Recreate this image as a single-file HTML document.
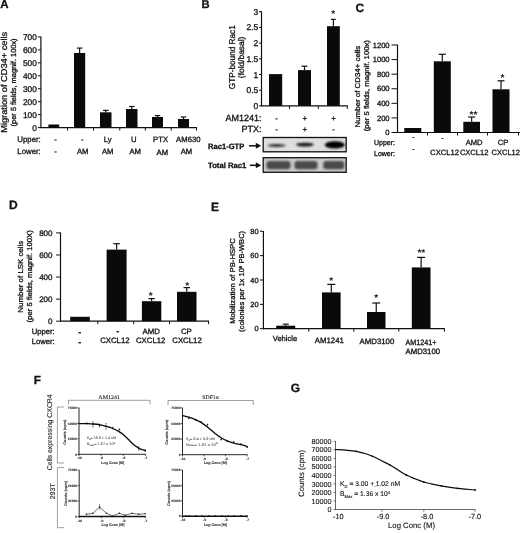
<!DOCTYPE html>
<html><head><meta charset="utf-8"><title>Figure</title>
<style>
html,body{margin:0;padding:0;background:#fff;}
svg{display:block;filter:blur(0.4px);}
svg text{font-family:"Liberation Sans",Arial,sans-serif;text-rendering:geometricPrecision;stroke:#000;stroke-width:0.28px;paint-order:stroke;} svg text.t{stroke-width:0.12px;stroke:#444} svg text.s{stroke-width:0} svg text.g{stroke-width:0.1px}
</style></head><body>
<svg width="520" height="533" viewBox="0 0 520 533">
<rect width="520" height="533" fill="#fff"/>
<text x="0.3" y="8.4" font-size="11.5" text-anchor="start" font-weight="bold" fill="#111">A</text>
<line x1="40.9" y1="36.5" x2="40.9" y2="128.1" stroke="#111" stroke-width="1.2"/>
<line x1="40.4" y1="127.6" x2="197" y2="127.6" stroke="#111" stroke-width="1.2"/>
<line x1="37.9" y1="127.6" x2="40.9" y2="127.6" stroke="#111" stroke-width="1"/>
<text x="36.8" y="130.5" font-size="8.3" text-anchor="end" font-weight="normal" fill="#111">0</text>
<line x1="37.9" y1="114.64285714285714" x2="40.9" y2="114.64285714285714" stroke="#111" stroke-width="1"/>
<text x="36.8" y="117.54285714285714" font-size="8.3" text-anchor="end" font-weight="normal" fill="#111">100</text>
<line x1="37.9" y1="101.68571428571428" x2="40.9" y2="101.68571428571428" stroke="#111" stroke-width="1"/>
<text x="36.8" y="104.58571428571429" font-size="8.3" text-anchor="end" font-weight="normal" fill="#111">200</text>
<line x1="37.9" y1="88.72857142857143" x2="40.9" y2="88.72857142857143" stroke="#111" stroke-width="1"/>
<text x="36.8" y="91.62857142857143" font-size="8.3" text-anchor="end" font-weight="normal" fill="#111">300</text>
<line x1="37.9" y1="75.77142857142857" x2="40.9" y2="75.77142857142857" stroke="#111" stroke-width="1"/>
<text x="36.8" y="78.67142857142858" font-size="8.3" text-anchor="end" font-weight="normal" fill="#111">400</text>
<line x1="37.9" y1="62.81428571428572" x2="40.9" y2="62.81428571428572" stroke="#111" stroke-width="1"/>
<text x="36.8" y="65.71428571428572" font-size="8.3" text-anchor="end" font-weight="normal" fill="#111">500</text>
<line x1="37.9" y1="49.85714285714286" x2="40.9" y2="49.85714285714286" stroke="#111" stroke-width="1"/>
<text x="36.8" y="52.75714285714286" font-size="8.3" text-anchor="end" font-weight="normal" fill="#111">600</text>
<line x1="37.9" y1="36.90000000000002" x2="40.9" y2="36.90000000000002" stroke="#111" stroke-width="1"/>
<text x="36.8" y="39.80000000000002" font-size="8.3" text-anchor="end" font-weight="normal" fill="#111">700</text>
<line x1="67.5" y1="127.6" x2="67.5" y2="130.6" stroke="#111" stroke-width="1"/>
<line x1="93.5" y1="127.6" x2="93.5" y2="130.6" stroke="#111" stroke-width="1"/>
<line x1="119.8" y1="127.6" x2="119.8" y2="130.6" stroke="#111" stroke-width="1"/>
<line x1="145.3" y1="127.6" x2="145.3" y2="130.6" stroke="#111" stroke-width="1"/>
<line x1="171.2" y1="127.6" x2="171.2" y2="130.6" stroke="#111" stroke-width="1"/>
<line x1="196.5" y1="127.6" x2="196.5" y2="130.6" stroke="#111" stroke-width="1"/>
<rect x="48.4" y="124.5" width="10.800000000000004" height="3.0999999999999943" fill="#0a0a0a"/>
<rect x="74" y="53" width="11.200000000000003" height="74.6" fill="#0a0a0a"/>
<line x1="79.6" y1="53" x2="79.6" y2="48.1" stroke="#111" stroke-width="1.2"/>
<line x1="76.85" y1="48.1" x2="82.35" y2="48.1" stroke="#111" stroke-width="1.2"/>
<rect x="100" y="112.3" width="11.5" height="15.299999999999997" fill="#0a0a0a"/>
<line x1="105.75" y1="112.3" x2="105.75" y2="110.4" stroke="#111" stroke-width="1.2"/>
<line x1="103.0" y1="110.4" x2="108.5" y2="110.4" stroke="#111" stroke-width="1.2"/>
<rect x="126" y="109" width="11.5" height="18.599999999999994" fill="#0a0a0a"/>
<line x1="131.75" y1="109" x2="131.75" y2="106.5" stroke="#111" stroke-width="1.2"/>
<line x1="129.0" y1="106.5" x2="134.5" y2="106.5" stroke="#111" stroke-width="1.2"/>
<rect x="152" y="117" width="11" height="10.599999999999994" fill="#0a0a0a"/>
<line x1="157.5" y1="117" x2="157.5" y2="115.6" stroke="#111" stroke-width="1.2"/>
<line x1="154.75" y1="115.6" x2="160.25" y2="115.6" stroke="#111" stroke-width="1.2"/>
<rect x="178" y="119" width="11" height="8.599999999999994" fill="#0a0a0a"/>
<line x1="183.5" y1="119" x2="183.5" y2="117" stroke="#111" stroke-width="1.2"/>
<line x1="180.75" y1="117" x2="186.25" y2="117" stroke="#111" stroke-width="1.2"/>
<text x="7" y="82.3" font-size="8.6" text-anchor="middle" font-weight="normal" fill="#111" transform="rotate(-90 7 82.3)" textLength="101" lengthAdjust="spacingAndGlyphs">Migration of CD34+ cells</text>
<text x="16.2" y="82.4" font-size="7.4" text-anchor="middle" font-weight="normal" fill="#111" transform="rotate(-90 16.2 82.4)" textLength="88" lengthAdjust="spacingAndGlyphs">(per 5 fields, magnif. 100x)</text>
<text x="17.3" y="142.3" font-size="8" text-anchor="start" font-weight="normal" fill="#111" textLength="23.5" lengthAdjust="spacingAndGlyphs">Upper:</text>
<text x="17.3" y="154" font-size="8" text-anchor="start" font-weight="normal" fill="#111" textLength="23.5" lengthAdjust="spacingAndGlyphs">Lower:</text>
<text x="55.6" y="141.8" font-size="7.7" text-anchor="middle" font-weight="normal" fill="#111">-</text>
<text x="82.2" y="141.8" font-size="7.7" text-anchor="middle" font-weight="normal" fill="#111">-</text>
<text x="107.7" y="141.8" font-size="7.7" text-anchor="middle" font-weight="normal" fill="#111">Ly</text>
<text x="133.7" y="141.8" font-size="7.7" text-anchor="middle" font-weight="normal" fill="#111">U</text>
<text x="160.6" y="141.8" font-size="7.7" text-anchor="middle" font-weight="normal" fill="#111">PTX</text>
<text x="188.3" y="141.8" font-size="7.7" text-anchor="middle" font-weight="normal" fill="#111">AM630</text>
<text x="55.6" y="153.9" font-size="7.7" text-anchor="middle" font-weight="normal" fill="#111">-</text>
<text x="82.7" y="153.9" font-size="7.7" text-anchor="middle" font-weight="normal" fill="#111">AM</text>
<text x="107.7" y="153.9" font-size="7.7" text-anchor="middle" font-weight="normal" fill="#111">AM</text>
<text x="135.2" y="154.1" font-size="7.7" text-anchor="middle" font-weight="normal" fill="#111">AM</text>
<text x="162.3" y="154.9" font-size="7.7" text-anchor="middle" font-weight="normal" fill="#111">AM</text>
<text x="186.4" y="154.4" font-size="7.7" text-anchor="middle" font-weight="normal" fill="#111">AM</text>
<text x="201.5" y="8.3" font-size="11.2" text-anchor="start" font-weight="bold" fill="#111">B</text>
<line x1="261.5" y1="11.299999999999999" x2="261.5" y2="106.4" stroke="#111" stroke-width="1.2"/>
<line x1="261.0" y1="105.9" x2="347.8" y2="105.9" stroke="#111" stroke-width="1.2"/>
<line x1="259.0" y1="105.9" x2="261.5" y2="105.9" stroke="#111" stroke-width="1"/>
<text x="258.3" y="108.9" font-size="8.5" text-anchor="end" font-weight="normal" fill="#111">0</text>
<line x1="259.0" y1="90.2" x2="261.5" y2="90.2" stroke="#111" stroke-width="1"/>
<text x="258.3" y="93.2" font-size="8.5" text-anchor="end" font-weight="normal" fill="#111">0.5</text>
<line x1="259.0" y1="74.5" x2="261.5" y2="74.5" stroke="#111" stroke-width="1"/>
<text x="258.3" y="77.5" font-size="8.5" text-anchor="end" font-weight="normal" fill="#111">1</text>
<line x1="259.0" y1="58.800000000000004" x2="261.5" y2="58.800000000000004" stroke="#111" stroke-width="1"/>
<text x="258.3" y="61.800000000000004" font-size="8.5" text-anchor="end" font-weight="normal" fill="#111">1.5</text>
<line x1="259.0" y1="43.1" x2="261.5" y2="43.1" stroke="#111" stroke-width="1"/>
<text x="258.3" y="46.1" font-size="8.5" text-anchor="end" font-weight="normal" fill="#111">2</text>
<line x1="259.0" y1="27.400000000000006" x2="261.5" y2="27.400000000000006" stroke="#111" stroke-width="1"/>
<text x="258.3" y="30.400000000000006" font-size="8.5" text-anchor="end" font-weight="normal" fill="#111">2.5</text>
<line x1="259.0" y1="11.700000000000003" x2="261.5" y2="11.700000000000003" stroke="#111" stroke-width="1"/>
<text x="258.3" y="14.700000000000003" font-size="8.5" text-anchor="end" font-weight="normal" fill="#111">3</text>
<line x1="289.5" y1="105.9" x2="289.5" y2="108.9" stroke="#111" stroke-width="1"/>
<line x1="318.3" y1="105.9" x2="318.3" y2="108.9" stroke="#111" stroke-width="1"/>
<line x1="347.3" y1="105.9" x2="347.3" y2="108.9" stroke="#111" stroke-width="1"/>
<rect x="269" y="74.1" width="13.199999999999989" height="31.80000000000001" fill="#0a0a0a"/>
<rect x="298" y="70.1" width="13" height="35.80000000000001" fill="#0a0a0a"/>
<line x1="304.5" y1="70.1" x2="304.5" y2="66.2" stroke="#111" stroke-width="1.2"/>
<line x1="301.5" y1="66.2" x2="307.5" y2="66.2" stroke="#111" stroke-width="1.2"/>
<rect x="327" y="26.2" width="12.800000000000011" height="79.7" fill="#0a0a0a"/>
<line x1="333.4" y1="26.2" x2="333.4" y2="19.4" stroke="#111" stroke-width="1.2"/>
<line x1="331.0" y1="19.4" x2="335.79999999999995" y2="19.4" stroke="#111" stroke-width="1.2"/>
<text x="333.1" y="17.1" font-size="10" text-anchor="middle" font-weight="bold" fill="#111" class="s">*</text>
<text x="235.4" y="57.2" font-size="8.6" text-anchor="middle" font-weight="normal" fill="#111" transform="rotate(-90 235.4 57.2)" textLength="64" lengthAdjust="spacingAndGlyphs">GTP-bound Rac1</text>
<text x="244.5" y="57.4" font-size="8.2" text-anchor="middle" font-weight="normal" fill="#111" transform="rotate(-90 244.5 57.4)" textLength="41.5" lengthAdjust="spacingAndGlyphs">(fold/basal)</text>
<text x="261.6" y="121.3" font-size="9" text-anchor="end" font-weight="normal" fill="#111">AM1241:</text>
<text x="261.6" y="132.2" font-size="9" text-anchor="end" font-weight="normal" fill="#111">PTX:</text>
<text x="276.5" y="120.8" font-size="8" text-anchor="middle" font-weight="normal" fill="#111">-</text>
<text x="304.9" y="120.8" font-size="8" text-anchor="middle" font-weight="normal" fill="#111">+</text>
<text x="333.5" y="120.8" font-size="8" text-anchor="middle" font-weight="normal" fill="#111">+</text>
<text x="276.5" y="131.6" font-size="8" text-anchor="middle" font-weight="normal" fill="#111">-</text>
<text x="304.9" y="131.6" font-size="8" text-anchor="middle" font-weight="normal" fill="#111">+</text>
<text x="333.5" y="131.6" font-size="8" text-anchor="middle" font-weight="normal" fill="#111">-</text>
<defs><filter id="bl" x="-20%" y="-50%" width="140%" height="200%"><feGaussianBlur stdDeviation="0.9"/></filter><filter id="bl2" x="-20%" y="-50%" width="140%" height="200%"><feGaussianBlur stdDeviation="1.3"/></filter></defs>
<rect x="263.2" y="137.5" width="83" height="14.3" fill="#dedede" stroke="#111" stroke-width="1.3"/>
<g filter="url(#bl)">
<ellipse cx="276.6" cy="145.5" rx="9" ry="1.5" fill="#2a2a2a"/>
<ellipse cx="305" cy="144.6" rx="8.8" ry="1.9" fill="#151515"/>
<ellipse cx="334.8" cy="144.9" rx="10" ry="3.6" fill="#000"/>
<ellipse cx="334.8" cy="144.9" rx="7" ry="2.2" fill="#000"/>
</g>
<rect x="263.2" y="157.7" width="83" height="14.6" fill="#c9c9c9" stroke="#111" stroke-width="1.3"/>
<g filter="url(#bl2)">
<rect x="266.5" y="161" width="24" height="8.2" rx="3" fill="#4a4a4a"/>
<rect x="294.5" y="161" width="23" height="8.2" rx="3" fill="#4a4a4a"/>
<rect x="323.3" y="161" width="21" height="8.2" rx="3" fill="#4a4a4a"/>
</g>
<text x="208" y="148.8" font-size="7.7" text-anchor="start" font-weight="bold" fill="#111" textLength="36.3" lengthAdjust="spacingAndGlyphs">Rac1-GTP</text>
<text x="208" y="167.8" font-size="7.7" text-anchor="start" font-weight="bold" fill="#111" textLength="38.4" lengthAdjust="spacingAndGlyphs">Total Rac1</text>
<line x1="249" y1="145.8" x2="258.2" y2="145.8" stroke="#111" stroke-width="1.5"/>
<polygon points="261.2,145.8 255.79999999999998,142.8 255.79999999999998,148.8" fill="#111"/>
<line x1="249.8" y1="165.3" x2="258.2" y2="165.3" stroke="#111" stroke-width="1.5"/>
<polygon points="261.2,165.3 255.79999999999998,162.3 255.79999999999998,168.3" fill="#111"/>
<text x="355.6" y="11.7" font-size="12" text-anchor="start" font-weight="bold" fill="#111">C</text>
<line x1="397.5" y1="44.6" x2="397.5" y2="133.0" stroke="#111" stroke-width="1.2"/>
<line x1="397.0" y1="132.5" x2="520" y2="132.5" stroke="#111" stroke-width="1.2"/>
<line x1="391.5" y1="132.5" x2="397.5" y2="132.5" stroke="#111" stroke-width="1"/>
<text x="389.6" y="135.2" font-size="7.6" text-anchor="end" font-weight="normal" fill="#111">0</text>
<line x1="391.5" y1="117.91666666666667" x2="397.5" y2="117.91666666666667" stroke="#111" stroke-width="1"/>
<text x="389.6" y="120.61666666666667" font-size="7.6" text-anchor="end" font-weight="normal" fill="#111">200</text>
<line x1="391.5" y1="103.33333333333333" x2="397.5" y2="103.33333333333333" stroke="#111" stroke-width="1"/>
<text x="389.6" y="106.03333333333333" font-size="7.6" text-anchor="end" font-weight="normal" fill="#111">400</text>
<line x1="391.5" y1="88.75" x2="397.5" y2="88.75" stroke="#111" stroke-width="1"/>
<text x="389.6" y="91.45" font-size="7.6" text-anchor="end" font-weight="normal" fill="#111">600</text>
<line x1="391.5" y1="74.16666666666666" x2="397.5" y2="74.16666666666666" stroke="#111" stroke-width="1"/>
<text x="389.6" y="76.86666666666666" font-size="7.6" text-anchor="end" font-weight="normal" fill="#111">800</text>
<line x1="391.5" y1="59.58333333333333" x2="397.5" y2="59.58333333333333" stroke="#111" stroke-width="1"/>
<text x="389.6" y="62.28333333333333" font-size="7.6" text-anchor="end" font-weight="normal" fill="#111">1000</text>
<line x1="391.5" y1="45.0" x2="397.5" y2="45.0" stroke="#111" stroke-width="1"/>
<text x="389.6" y="47.7" font-size="7.6" text-anchor="end" font-weight="normal" fill="#111">1200</text>
<line x1="427.5" y1="132.5" x2="427.5" y2="135.5" stroke="#111" stroke-width="1"/>
<line x1="457.5" y1="132.5" x2="457.5" y2="135.5" stroke="#111" stroke-width="1"/>
<line x1="487.5" y1="132.5" x2="487.5" y2="135.5" stroke="#111" stroke-width="1"/>
<line x1="518.5" y1="132.5" x2="518.5" y2="135.5" stroke="#111" stroke-width="1"/>
<rect x="404.3" y="128" width="17.0" height="4.5" fill="#0a0a0a"/>
<rect x="433.8" y="61.3" width="17.0" height="71.2" fill="#0a0a0a"/>
<line x1="442.3" y1="61.3" x2="442.3" y2="54.3" stroke="#111" stroke-width="1.2"/>
<line x1="438.8" y1="54.3" x2="445.8" y2="54.3" stroke="#111" stroke-width="1.2"/>
<rect x="463.3" y="121.8" width="16.69999999999999" height="10.700000000000003" fill="#0a0a0a"/>
<line x1="471.65" y1="121.8" x2="471.65" y2="117" stroke="#111" stroke-width="1.2"/>
<line x1="468.15" y1="117" x2="475.15" y2="117" stroke="#111" stroke-width="1.2"/>
<rect x="492.5" y="89.3" width="17.0" height="43.2" fill="#0a0a0a"/>
<line x1="501.0" y1="89.3" x2="501.0" y2="80.8" stroke="#111" stroke-width="1.2"/>
<line x1="497.5" y1="80.8" x2="504.5" y2="80.8" stroke="#111" stroke-width="1.2"/>
<text x="473.4" y="118.4" font-size="10" text-anchor="middle" font-weight="bold" fill="#111" class="s">**</text>
<text x="502.5" y="81.4" font-size="10" text-anchor="middle" font-weight="bold" fill="#111" class="s">*</text>
<text x="360.3" y="86.6" font-size="7" text-anchor="middle" font-weight="normal" fill="#111" transform="rotate(-90 360.3 86.6)" textLength="81.8" lengthAdjust="spacingAndGlyphs">Number of CD34+ cells</text>
<text x="369.4" y="85.7" font-size="7" text-anchor="middle" font-weight="normal" fill="#111" transform="rotate(-90 369.4 85.7)" textLength="91.2" lengthAdjust="spacingAndGlyphs">(per 5 fields, magnif. 100x)</text>
<text x="374" y="144.8" font-size="7.4" text-anchor="start" font-weight="normal" fill="#111" textLength="21" lengthAdjust="spacingAndGlyphs">Upper:</text>
<text x="374" y="155.5" font-size="7.4" text-anchor="start" font-weight="normal" fill="#111" textLength="21" lengthAdjust="spacingAndGlyphs">Lower:</text>
<text x="413.3" y="138.70000000000002" font-size="5.5" text-anchor="middle" font-weight="bold" fill="#222">-</text>
<text x="442.5" y="139.6" font-size="5.5" text-anchor="middle" font-weight="bold" fill="#222">-</text>
<text x="413.3" y="151.4" font-size="5.5" text-anchor="middle" font-weight="bold" fill="#222">-</text>
<text x="474.1" y="144.6" font-size="7.6" text-anchor="middle" font-weight="normal" fill="#111">AMD</text>
<text x="503" y="144.6" font-size="7.6" text-anchor="middle" font-weight="normal" fill="#111">CP</text>
<text x="430.1" y="154.8" font-size="7.6" text-anchor="start" font-weight="normal" fill="#111" textLength="29" lengthAdjust="spacingAndGlyphs">CXCL12</text>
<text x="459.9" y="154.8" font-size="7.6" text-anchor="start" font-weight="normal" fill="#111" textLength="28.5" lengthAdjust="spacingAndGlyphs">CXCL12</text>
<text x="491.5" y="154.8" font-size="7.6" text-anchor="start" font-weight="normal" fill="#111" textLength="28.5" lengthAdjust="spacingAndGlyphs">CXCL12</text>
<text x="9" y="208.8" font-size="12" text-anchor="start" font-weight="bold" fill="#111">D</text>
<line x1="60.5" y1="232.5" x2="60.5" y2="321.7" stroke="#111" stroke-width="1.2"/>
<line x1="60.0" y1="321.2" x2="209" y2="321.2" stroke="#111" stroke-width="1.2"/>
<line x1="56.1" y1="321.2" x2="60.5" y2="321.2" stroke="#111" stroke-width="1"/>
<text x="52.5" y="324.0" font-size="8" text-anchor="end" font-weight="normal" fill="#111">0</text>
<line x1="56.1" y1="299.125" x2="60.5" y2="299.125" stroke="#111" stroke-width="1"/>
<text x="52.5" y="301.925" font-size="8" text-anchor="end" font-weight="normal" fill="#111">200</text>
<line x1="56.1" y1="277.05" x2="60.5" y2="277.05" stroke="#111" stroke-width="1"/>
<text x="52.5" y="279.85" font-size="8" text-anchor="end" font-weight="normal" fill="#111">400</text>
<line x1="56.1" y1="254.975" x2="60.5" y2="254.975" stroke="#111" stroke-width="1"/>
<text x="52.5" y="257.775" font-size="8" text-anchor="end" font-weight="normal" fill="#111">600</text>
<line x1="56.1" y1="232.9" x2="60.5" y2="232.9" stroke="#111" stroke-width="1"/>
<text x="52.5" y="235.70000000000002" font-size="8" text-anchor="end" font-weight="normal" fill="#111">800</text>
<line x1="97.8" y1="321.2" x2="97.8" y2="324.2" stroke="#111" stroke-width="1"/>
<line x1="133.7" y1="321.2" x2="133.7" y2="324.2" stroke="#111" stroke-width="1"/>
<line x1="169.5" y1="321.2" x2="169.5" y2="324.2" stroke="#111" stroke-width="1"/>
<line x1="208.6" y1="321.2" x2="208.6" y2="324.2" stroke="#111" stroke-width="1"/>
<rect x="70.2" y="316.8" width="19.599999999999994" height="4.399999999999977" fill="#0a0a0a"/>
<rect x="106.6" y="249.6" width="20.0" height="71.6" fill="#0a0a0a"/>
<line x1="116.6" y1="249.6" x2="116.6" y2="243.7" stroke="#111" stroke-width="1.2"/>
<line x1="113.35" y1="243.7" x2="119.85" y2="243.7" stroke="#111" stroke-width="1.2"/>
<rect x="141.9" y="301.2" width="19.400000000000006" height="20.0" fill="#0a0a0a"/>
<line x1="151.60000000000002" y1="301.2" x2="151.60000000000002" y2="298.6" stroke="#111" stroke-width="1.2"/>
<line x1="148.35000000000002" y1="298.6" x2="154.85000000000002" y2="298.6" stroke="#111" stroke-width="1.2"/>
<rect x="177" y="291.8" width="19.5" height="29.399999999999977" fill="#0a0a0a"/>
<line x1="186.75" y1="291.8" x2="186.75" y2="287.6" stroke="#111" stroke-width="1.2"/>
<line x1="183.5" y1="287.6" x2="190.0" y2="287.6" stroke="#111" stroke-width="1.2"/>
<text x="150.8" y="298.7" font-size="10" text-anchor="middle" font-weight="bold" fill="#111" class="s">*</text>
<text x="187.1" y="288.6" font-size="10" text-anchor="middle" font-weight="bold" fill="#111" class="s">*</text>
<text x="23.3" y="276.7" font-size="7.2" text-anchor="middle" font-weight="normal" fill="#111" transform="rotate(-90 23.3 276.7)" textLength="72" lengthAdjust="spacingAndGlyphs">Number of  LSK cells</text>
<text x="32" y="276.3" font-size="7.2" text-anchor="middle" font-weight="normal" fill="#111" transform="rotate(-90 32 276.3)" textLength="92.2" lengthAdjust="spacingAndGlyphs">(per 5 fields, magnif. 100X)</text>
<text x="31.7" y="333.6" font-size="7.7" text-anchor="start" font-weight="normal" fill="#111" textLength="23" lengthAdjust="spacingAndGlyphs">Upper:</text>
<text x="31.7" y="343.9" font-size="7.7" text-anchor="start" font-weight="normal" fill="#111" textLength="23" lengthAdjust="spacingAndGlyphs">Lower:</text>
<text x="79.8" y="334.7" font-size="9" text-anchor="middle" font-weight="bold" fill="#111">-</text>
<text x="79.8" y="345.2" font-size="9" text-anchor="middle" font-weight="bold" fill="#111">-</text>
<text x="117.7" y="334.1" font-size="9" text-anchor="middle" font-weight="bold" fill="#111">-</text>
<text x="151.2" y="334" font-size="7.8" text-anchor="middle" font-weight="normal" fill="#111">AMD</text>
<text x="186.4" y="334" font-size="7.8" text-anchor="middle" font-weight="normal" fill="#111">CP</text>
<text x="114.9" y="343.4" font-size="7.8" text-anchor="middle" font-weight="normal" fill="#111" textLength="29.5" lengthAdjust="spacingAndGlyphs">CXCL12</text>
<text x="150.7" y="343.4" font-size="7.8" text-anchor="middle" font-weight="normal" fill="#111" textLength="29.5" lengthAdjust="spacingAndGlyphs">CXCL12</text>
<text x="187" y="343.4" font-size="7.8" text-anchor="middle" font-weight="normal" fill="#111" textLength="29.5" lengthAdjust="spacingAndGlyphs">CXCL12</text>
<text x="211" y="211" font-size="12" text-anchor="start" font-weight="bold" fill="#111">E</text>
<line x1="263.4" y1="230.9" x2="263.4" y2="329.2" stroke="#111" stroke-width="1.2"/>
<line x1="262.9" y1="328.7" x2="444.8" y2="328.7" stroke="#111" stroke-width="1.2"/>
<line x1="259.9" y1="328.7" x2="263.4" y2="328.7" stroke="#111" stroke-width="1"/>
<text x="258.6" y="331.4" font-size="7.4" text-anchor="end" font-weight="normal" fill="#111">0</text>
<line x1="259.9" y1="304.35" x2="263.4" y2="304.35" stroke="#111" stroke-width="1"/>
<text x="258.6" y="307.05" font-size="7.4" text-anchor="end" font-weight="normal" fill="#111">20</text>
<line x1="259.9" y1="280.0" x2="263.4" y2="280.0" stroke="#111" stroke-width="1"/>
<text x="258.6" y="282.7" font-size="7.4" text-anchor="end" font-weight="normal" fill="#111">40</text>
<line x1="259.9" y1="255.65" x2="263.4" y2="255.65" stroke="#111" stroke-width="1"/>
<text x="258.6" y="258.35" font-size="7.4" text-anchor="end" font-weight="normal" fill="#111">60</text>
<line x1="259.9" y1="231.3" x2="263.4" y2="231.3" stroke="#111" stroke-width="1"/>
<text x="258.6" y="234.0" font-size="7.4" text-anchor="end" font-weight="normal" fill="#111">80</text>
<line x1="308.8" y1="328.7" x2="308.8" y2="331.7" stroke="#111" stroke-width="1"/>
<line x1="353.8" y1="328.7" x2="353.8" y2="331.7" stroke="#111" stroke-width="1"/>
<line x1="398.8" y1="328.7" x2="398.8" y2="331.7" stroke="#111" stroke-width="1"/>
<line x1="444.4" y1="328.7" x2="444.4" y2="331.7" stroke="#111" stroke-width="1"/>
<rect x="276.2" y="325.7" width="19.0" height="3.0" fill="#0a0a0a"/>
<line x1="285.7" y1="325.7" x2="285.7" y2="324.2" stroke="#111" stroke-width="1.2"/>
<line x1="282.7" y1="324.2" x2="288.7" y2="324.2" stroke="#111" stroke-width="1.2"/>
<rect x="322" y="292.4" width="18.600000000000023" height="36.30000000000001" fill="#0a0a0a"/>
<line x1="331.3" y1="292.4" x2="331.3" y2="284.4" stroke="#111" stroke-width="1.2"/>
<line x1="327.3" y1="284.4" x2="335.3" y2="284.4" stroke="#111" stroke-width="1.2"/>
<rect x="367" y="312" width="18.5" height="16.69999999999999" fill="#0a0a0a"/>
<line x1="376.25" y1="312" x2="376.25" y2="303" stroke="#111" stroke-width="1.2"/>
<line x1="372.25" y1="303" x2="380.25" y2="303" stroke="#111" stroke-width="1.2"/>
<rect x="411.8" y="267.4" width="18.69999999999999" height="61.30000000000001" fill="#0a0a0a"/>
<line x1="421.15" y1="267.4" x2="421.15" y2="257.4" stroke="#111" stroke-width="1.2"/>
<line x1="417.15" y1="257.4" x2="425.15" y2="257.4" stroke="#111" stroke-width="1.2"/>
<text x="331.3" y="284.0" font-size="10" text-anchor="middle" font-weight="bold" fill="#111" class="s">*</text>
<text x="376.3" y="301.3" font-size="10" text-anchor="middle" font-weight="bold" fill="#111" class="s">*</text>
<text x="421.3" y="255.8" font-size="10" text-anchor="middle" font-weight="bold" fill="#111" class="s">**</text>
<text x="235" y="281" font-size="7.2" text-anchor="middle" font-weight="normal" fill="#111" transform="rotate(-90 235 281)" textLength="85.7" lengthAdjust="spacingAndGlyphs">Mobilization of PB-HSPC</text>
<text x="244.3" y="281.4" font-size="7.2" text-anchor="middle" font-weight="normal" fill="#111" transform="rotate(-90 244.3 281.4)" textLength="101" lengthAdjust="spacingAndGlyphs">(colonies per 1x 10<tspan font-size="4.2" dy="-2.4">5</tspan><tspan dy="2.4"> PB-WBC)</tspan></text>
<text x="285" y="341" font-size="7.6" text-anchor="middle" font-weight="normal" fill="#111">Vehicle</text>
<text x="329.3" y="342.6" font-size="7.8" text-anchor="middle" font-weight="normal" fill="#111">AM1241</text>
<text x="376.9" y="343.8" font-size="7.8" text-anchor="middle" font-weight="normal" fill="#111" textLength="34.8" lengthAdjust="spacingAndGlyphs">AMD3100</text>
<text x="405.5" y="345" font-size="7.8" text-anchor="start" font-weight="normal" fill="#111" textLength="30.8" lengthAdjust="spacingAndGlyphs">AM1241+</text>
<text x="422.8" y="353.8" font-size="7.8" text-anchor="middle" font-weight="normal" fill="#111" textLength="34.5" lengthAdjust="spacingAndGlyphs">AMD3100</text>
<text x="33.8" y="384.2" font-size="11.8" text-anchor="start" font-weight="bold" fill="#111">F</text>
<path d="M68.5 404.5 V400.3 H150 V404.5" fill="none" stroke="#777" stroke-width="0.7"/>
<path d="M168 405 V400.5 H253.3 V405" fill="none" stroke="#777" stroke-width="0.7"/>
<path d="M64 407 H57.4 V463 H64.2" fill="none" stroke="#777" stroke-width="0.7"/>
<path d="M64.2 467.5 H57.4 V527.7 H64.2" fill="none" stroke="#777" stroke-width="0.7"/>
<text x="109.2" y="398.8" font-size="5.6" text-anchor="middle" font-weight="normal" fill="#222" style="font-family:'Liberation Serif',serif" class="t" textLength="21.7" lengthAdjust="spacingAndGlyphs">AM1241</text>
<text x="210.5" y="398.8" font-size="5.6" text-anchor="middle" font-weight="normal" fill="#222" style="font-family:'Liberation Serif',serif" class="t" textLength="16.4" lengthAdjust="spacingAndGlyphs">SDF1α</text>
<text x="52" y="432.3" font-size="7" text-anchor="middle" font-weight="normal" fill="#222" transform="rotate(-90 52 432.3)" class="g" textLength="76" lengthAdjust="spacingAndGlyphs">Cells expressing CXCR4</text>
<text x="55" y="491.3" font-size="7" text-anchor="middle" font-weight="normal" fill="#222" transform="rotate(-90 55 491.3)" class="g">293T</text>
<line x1="79" y1="407.8" x2="79" y2="454.6" stroke="#111" stroke-width="0.9"/>
<line x1="78.7" y1="454.3" x2="145.70000000000002" y2="454.3" stroke="#111" stroke-width="0.9"/>
<line x1="77.4" y1="454.3" x2="79" y2="454.3" stroke="#111" stroke-width="0.7"/>
<text x="77" y="455.5" font-size="3.3" text-anchor="end" font-weight="bold" fill="#333" class="t">0</text>
<line x1="77.4" y1="438.8" x2="79" y2="438.8" stroke="#111" stroke-width="0.7"/>
<text x="77" y="440.0" font-size="3.3" text-anchor="end" font-weight="bold" fill="#333" class="t">25000</text>
<line x1="77.4" y1="423.3" x2="79" y2="423.3" stroke="#111" stroke-width="0.7"/>
<text x="77" y="424.5" font-size="3.3" text-anchor="end" font-weight="bold" fill="#333" class="t">50000</text>
<line x1="77.4" y1="407.8" x2="79" y2="407.8" stroke="#111" stroke-width="0.7"/>
<text x="77" y="409.0" font-size="3.3" text-anchor="end" font-weight="bold" fill="#333" class="t">75000</text>
<line x1="79.0" y1="454.3" x2="79.0" y2="455.90000000000003" stroke="#111" stroke-width="0.7"/>
<text x="79.5" y="459.3" font-size="3.3" text-anchor="middle" font-weight="bold" fill="#333" class="t">-10</text>
<line x1="101.13333333333334" y1="454.3" x2="101.13333333333334" y2="455.90000000000003" stroke="#111" stroke-width="0.7"/>
<text x="101.63333333333334" y="459.3" font-size="3.3" text-anchor="middle" font-weight="bold" fill="#333" class="t">-9</text>
<line x1="123.26666666666668" y1="454.3" x2="123.26666666666668" y2="455.90000000000003" stroke="#111" stroke-width="0.7"/>
<text x="123.76666666666668" y="459.3" font-size="3.3" text-anchor="middle" font-weight="bold" fill="#333" class="t">-8</text>
<line x1="145.4" y1="454.3" x2="145.4" y2="455.90000000000003" stroke="#111" stroke-width="0.7"/>
<text x="145.9" y="459.3" font-size="3.3" text-anchor="middle" font-weight="bold" fill="#333" class="t">-7</text>
<text x="112.8" y="464.2" font-size="3.8" text-anchor="middle" font-weight="bold" fill="#333" class="t" textLength="23" lengthAdjust="spacingAndGlyphs">Log Conc [M]</text>
<text x="66.2" y="432.2" font-size="3.8" text-anchor="middle" font-weight="bold" fill="#333" transform="rotate(-90 66.2 432.2)" class="t" textLength="25" lengthAdjust="spacingAndGlyphs">Counts (cpm)</text>
<line x1="79.2" y1="470" x2="79.2" y2="516.8" stroke="#111" stroke-width="0.9"/>
<line x1="78.9" y1="516.5" x2="145.70000000000002" y2="516.5" stroke="#111" stroke-width="1.3"/>
<line x1="77.60000000000001" y1="516.5" x2="79.2" y2="516.5" stroke="#111" stroke-width="0.7"/>
<text x="77.2" y="517.7" font-size="3.3" text-anchor="end" font-weight="bold" fill="#333" class="t">0</text>
<line x1="77.60000000000001" y1="501.0" x2="79.2" y2="501.0" stroke="#111" stroke-width="0.7"/>
<text x="77.2" y="502.2" font-size="3.3" text-anchor="end" font-weight="bold" fill="#333" class="t">25000</text>
<line x1="77.60000000000001" y1="485.5" x2="79.2" y2="485.5" stroke="#111" stroke-width="0.7"/>
<text x="77.2" y="486.7" font-size="3.3" text-anchor="end" font-weight="bold" fill="#333" class="t">50000</text>
<line x1="77.60000000000001" y1="470.0" x2="79.2" y2="470.0" stroke="#111" stroke-width="0.7"/>
<text x="77.2" y="471.2" font-size="3.3" text-anchor="end" font-weight="bold" fill="#333" class="t">75000</text>
<line x1="79.2" y1="516.5" x2="79.2" y2="518.1" stroke="#111" stroke-width="0.7"/>
<text x="79.7" y="521.5" font-size="3.3" text-anchor="middle" font-weight="bold" fill="#333" class="t">-10</text>
<line x1="101.26666666666667" y1="516.5" x2="101.26666666666667" y2="518.1" stroke="#111" stroke-width="0.7"/>
<text x="101.76666666666667" y="521.5" font-size="3.3" text-anchor="middle" font-weight="bold" fill="#333" class="t">-9</text>
<line x1="123.33333333333334" y1="516.5" x2="123.33333333333334" y2="518.1" stroke="#111" stroke-width="0.7"/>
<text x="123.83333333333334" y="521.5" font-size="3.3" text-anchor="middle" font-weight="bold" fill="#333" class="t">-8</text>
<line x1="145.4" y1="516.5" x2="145.4" y2="518.1" stroke="#111" stroke-width="0.7"/>
<text x="145.9" y="521.5" font-size="3.3" text-anchor="middle" font-weight="bold" fill="#333" class="t">-7</text>
<text x="112.9" y="525.8" font-size="3.8" text-anchor="middle" font-weight="bold" fill="#333" class="t" textLength="23" lengthAdjust="spacingAndGlyphs">Log Conc [M]</text>
<text x="67" y="493.5" font-size="3.8" text-anchor="middle" font-weight="bold" fill="#333" transform="rotate(-90 67 493.5)" class="t" textLength="25" lengthAdjust="spacingAndGlyphs">Counts (cpm)</text>
<line x1="182.5" y1="407.8" x2="182.5" y2="455.0" stroke="#111" stroke-width="0.9"/>
<line x1="182.2" y1="454.7" x2="247.4" y2="454.7" stroke="#111" stroke-width="0.9"/>
<line x1="180.9" y1="454.7" x2="182.5" y2="454.7" stroke="#111" stroke-width="0.7"/>
<text x="180.5" y="455.9" font-size="3.3" text-anchor="end" font-weight="bold" fill="#333" class="t">0</text>
<line x1="180.9" y1="439.06666666666666" x2="182.5" y2="439.06666666666666" stroke="#111" stroke-width="0.7"/>
<text x="180.5" y="440.26666666666665" font-size="3.3" text-anchor="end" font-weight="bold" fill="#333" class="t">25000</text>
<line x1="180.9" y1="423.43333333333334" x2="182.5" y2="423.43333333333334" stroke="#111" stroke-width="0.7"/>
<text x="180.5" y="424.6333333333333" font-size="3.3" text-anchor="end" font-weight="bold" fill="#333" class="t">50000</text>
<line x1="180.9" y1="407.8" x2="182.5" y2="407.8" stroke="#111" stroke-width="0.7"/>
<text x="180.5" y="409.0" font-size="3.3" text-anchor="end" font-weight="bold" fill="#333" class="t">75000</text>
<line x1="182.5" y1="454.7" x2="182.5" y2="456.3" stroke="#111" stroke-width="0.7"/>
<text x="183.0" y="459.7" font-size="3.3" text-anchor="middle" font-weight="bold" fill="#333" class="t">-10</text>
<line x1="204.03333333333333" y1="454.7" x2="204.03333333333333" y2="456.3" stroke="#111" stroke-width="0.7"/>
<text x="204.53333333333333" y="459.7" font-size="3.3" text-anchor="middle" font-weight="bold" fill="#333" class="t">-9</text>
<line x1="225.56666666666666" y1="454.7" x2="225.56666666666666" y2="456.3" stroke="#111" stroke-width="0.7"/>
<text x="226.06666666666666" y="459.7" font-size="3.3" text-anchor="middle" font-weight="bold" fill="#333" class="t">-8</text>
<line x1="247.1" y1="454.7" x2="247.1" y2="456.3" stroke="#111" stroke-width="0.7"/>
<text x="247.6" y="459.7" font-size="3.3" text-anchor="middle" font-weight="bold" fill="#333" class="t">-7</text>
<text x="215.4" y="464.2" font-size="3.8" text-anchor="middle" font-weight="bold" fill="#333" class="t" textLength="23" lengthAdjust="spacingAndGlyphs">Log Conc [M]</text>
<text x="168.5" y="432.2" font-size="3.8" text-anchor="middle" font-weight="bold" fill="#333" transform="rotate(-90 168.5 432.2)" class="t" textLength="25" lengthAdjust="spacingAndGlyphs">Counts (cpm)</text>
<line x1="182.5" y1="470" x2="182.5" y2="516.5" stroke="#111" stroke-width="0.9"/>
<line x1="182.2" y1="516.2" x2="247.4" y2="516.2" stroke="#111" stroke-width="1.6"/>
<line x1="180.9" y1="516.2" x2="182.5" y2="516.2" stroke="#111" stroke-width="0.7"/>
<text x="180.5" y="517.4000000000001" font-size="3.3" text-anchor="end" font-weight="bold" fill="#333" class="t">0</text>
<line x1="180.9" y1="500.8" x2="182.5" y2="500.8" stroke="#111" stroke-width="0.7"/>
<text x="180.5" y="502.0" font-size="3.3" text-anchor="end" font-weight="bold" fill="#333" class="t">25000</text>
<line x1="180.9" y1="485.40000000000003" x2="182.5" y2="485.40000000000003" stroke="#111" stroke-width="0.7"/>
<text x="180.5" y="486.6" font-size="3.3" text-anchor="end" font-weight="bold" fill="#333" class="t">50000</text>
<line x1="180.9" y1="470.0" x2="182.5" y2="470.0" stroke="#111" stroke-width="0.7"/>
<text x="180.5" y="471.2" font-size="3.3" text-anchor="end" font-weight="bold" fill="#333" class="t">75000</text>
<line x1="182.5" y1="516.2" x2="182.5" y2="517.8000000000001" stroke="#111" stroke-width="0.7"/>
<text x="183.0" y="521.2" font-size="3.3" text-anchor="middle" font-weight="bold" fill="#333" class="t">-10</text>
<line x1="204.03333333333333" y1="516.2" x2="204.03333333333333" y2="517.8000000000001" stroke="#111" stroke-width="0.7"/>
<text x="204.53333333333333" y="521.2" font-size="3.3" text-anchor="middle" font-weight="bold" fill="#333" class="t">-9</text>
<line x1="225.56666666666666" y1="516.2" x2="225.56666666666666" y2="517.8000000000001" stroke="#111" stroke-width="0.7"/>
<text x="226.06666666666666" y="521.2" font-size="3.3" text-anchor="middle" font-weight="bold" fill="#333" class="t">-8</text>
<line x1="247.1" y1="516.2" x2="247.1" y2="517.8000000000001" stroke="#111" stroke-width="0.7"/>
<text x="247.6" y="521.2" font-size="3.3" text-anchor="middle" font-weight="bold" fill="#333" class="t">-7</text>
<text x="215.4" y="526.4" font-size="3.8" text-anchor="middle" font-weight="bold" fill="#333" class="t" textLength="23" lengthAdjust="spacingAndGlyphs">Log Conc [M]</text>
<text x="169.5" y="493.5" font-size="3.8" text-anchor="middle" font-weight="bold" fill="#333" transform="rotate(-90 169.5 493.5)" class="t" textLength="25" lengthAdjust="spacingAndGlyphs">Counts (cpm)</text>
<path d="M79 423.6 C80.28 423.62 84.28 423.63 86.7 423.7 C89.12 423.77 91.28 423.82 93.5 424 C95.72 424.18 97.92 424.42 100 424.8 C102.08 425.18 103.88 425.68 106 426.3 C108.12 426.92 110.47 427.57 112.7 428.5 C114.93 429.43 117.52 430.77 119.4 431.9 C121.28 433.03 122.57 434.12 124 435.3 C125.43 436.48 126.37 437.43 128 439 C129.63 440.57 131.87 443.10 133.8 444.7 C135.73 446.30 137.70 447.63 139.6 448.6 C141.50 449.57 144.27 450.18 145.2 450.5" fill="none" stroke="#0a0a0a" stroke-width="1.3" stroke-linecap="round"/>
<circle cx="86.7" cy="423.4" r="0.75" fill="#111"/>
<line x1="86.7" y1="422.79999999999995" x2="86.7" y2="424.0" stroke="#222" stroke-width="0.5"/>
<line x1="85.9" y1="422.79999999999995" x2="87.5" y2="422.79999999999995" stroke="#222" stroke-width="0.4"/>
<line x1="85.9" y1="424.0" x2="87.5" y2="424.0" stroke="#222" stroke-width="0.4"/>
<circle cx="92.9" cy="424.3" r="0.75" fill="#111"/>
<line x1="92.9" y1="421.7" x2="92.9" y2="426.90000000000003" stroke="#222" stroke-width="0.5"/>
<line x1="92.10000000000001" y1="421.7" x2="93.7" y2="421.7" stroke="#222" stroke-width="0.4"/>
<line x1="92.10000000000001" y1="426.90000000000003" x2="93.7" y2="426.90000000000003" stroke="#222" stroke-width="0.4"/>
<circle cx="99.6" cy="425.5" r="0.75" fill="#111"/>
<line x1="99.6" y1="424.0" x2="99.6" y2="427.0" stroke="#222" stroke-width="0.5"/>
<line x1="98.8" y1="424.0" x2="100.39999999999999" y2="424.0" stroke="#222" stroke-width="0.4"/>
<line x1="98.8" y1="427.0" x2="100.39999999999999" y2="427.0" stroke="#222" stroke-width="0.4"/>
<circle cx="106" cy="426.4" r="0.75" fill="#111"/>
<line x1="106" y1="423.5" x2="106" y2="429.29999999999995" stroke="#222" stroke-width="0.5"/>
<line x1="105.2" y1="423.5" x2="106.8" y2="423.5" stroke="#222" stroke-width="0.4"/>
<line x1="105.2" y1="429.29999999999995" x2="106.8" y2="429.29999999999995" stroke="#222" stroke-width="0.4"/>
<circle cx="112.7" cy="428" r="0.75" fill="#111"/>
<line x1="112.7" y1="427.2" x2="112.7" y2="428.8" stroke="#222" stroke-width="0.5"/>
<line x1="111.9" y1="427.2" x2="113.5" y2="427.2" stroke="#222" stroke-width="0.4"/>
<line x1="111.9" y1="428.8" x2="113.5" y2="428.8" stroke="#222" stroke-width="0.4"/>
<circle cx="119.4" cy="429.6" r="0.75" fill="#111"/>
<line x1="119.4" y1="428.90000000000003" x2="119.4" y2="430.3" stroke="#222" stroke-width="0.5"/>
<line x1="118.60000000000001" y1="428.90000000000003" x2="120.2" y2="428.90000000000003" stroke="#222" stroke-width="0.4"/>
<line x1="118.60000000000001" y1="430.3" x2="120.2" y2="430.3" stroke="#222" stroke-width="0.4"/>
<circle cx="138.7" cy="448.4" r="0.75" fill="#111"/>
<line x1="138.7" y1="446.7" x2="138.7" y2="450.09999999999997" stroke="#222" stroke-width="0.5"/>
<line x1="137.89999999999998" y1="446.7" x2="139.5" y2="446.7" stroke="#222" stroke-width="0.4"/>
<line x1="137.89999999999998" y1="450.09999999999997" x2="139.5" y2="450.09999999999997" stroke="#222" stroke-width="0.4"/>
<circle cx="145.2" cy="450.6" r="0.75" fill="#111"/>
<line x1="145.2" y1="449.8" x2="145.2" y2="451.40000000000003" stroke="#222" stroke-width="0.5"/>
<line x1="144.39999999999998" y1="449.8" x2="146.0" y2="449.8" stroke="#222" stroke-width="0.4"/>
<line x1="144.39999999999998" y1="451.40000000000003" x2="146.0" y2="451.40000000000003" stroke="#222" stroke-width="0.4"/>
<path d="M182.5 415.5 C183.55 415.78 186.62 416.50 188.8 417.2 C190.98 417.90 193.52 418.80 195.6 419.7 C197.68 420.60 199.23 421.32 201.3 422.6 C203.37 423.88 205.75 425.63 208 427.4 C210.25 429.17 212.55 431.43 214.8 433.2 C217.05 434.97 219.42 436.72 221.5 438 C223.58 439.28 225.22 440.03 227.3 440.9 C229.38 441.77 231.75 442.57 234 443.2 C236.25 443.83 238.62 444.18 240.8 444.7 C242.98 445.22 246.05 446.03 247.1 446.3" fill="none" stroke="#0a0a0a" stroke-width="1.3" stroke-linecap="round"/>
<circle cx="188.8" cy="418.5" r="0.75" fill="#111"/>
<line x1="188.8" y1="418.0" x2="188.8" y2="419.0" stroke="#222" stroke-width="0.5"/>
<circle cx="195.6" cy="419.9" r="0.75" fill="#111"/>
<line x1="195.6" y1="419.4" x2="195.6" y2="420.4" stroke="#222" stroke-width="0.5"/>
<circle cx="201.3" cy="422" r="0.75" fill="#111"/>
<line x1="201.3" y1="421.5" x2="201.3" y2="422.5" stroke="#222" stroke-width="0.5"/>
<circle cx="207.5" cy="424.7" r="0.75" fill="#111"/>
<line x1="207.5" y1="423.5" x2="207.5" y2="425.9" stroke="#222" stroke-width="0.5"/>
<circle cx="221.2" cy="439.6" r="0.75" fill="#111"/>
<line x1="221.2" y1="438.6" x2="221.2" y2="440.6" stroke="#222" stroke-width="0.5"/>
<circle cx="227.3" cy="441.6" r="0.75" fill="#111"/>
<line x1="227.3" y1="441.1" x2="227.3" y2="442.1" stroke="#222" stroke-width="0.5"/>
<circle cx="233.7" cy="441.8" r="0.75" fill="#111"/>
<line x1="233.7" y1="441.0" x2="233.7" y2="442.6" stroke="#222" stroke-width="0.5"/>
<circle cx="240.8" cy="444" r="0.75" fill="#111"/>
<line x1="240.8" y1="443.4" x2="240.8" y2="444.6" stroke="#222" stroke-width="0.5"/>
<circle cx="247.1" cy="447.2" r="0.75" fill="#111"/>
<line x1="247.1" y1="446.3" x2="247.1" y2="448.09999999999997" stroke="#222" stroke-width="0.5"/>
<path d="M86.3 514.2 L92.9 513.3 L99.6 507 L106.5 513.3 L112.7 516 L119.4 513.3 L125.2 515.2 L132 513.3 L138.7 514.2 L145.2 513.7" fill="none" stroke="#111" stroke-width="0.6"/>
<line x1="99.6" y1="504" x2="99.6" y2="509.8" stroke="#222" stroke-width="0.5"/>
<circle cx="86.3" cy="514.2" r="0.7" fill="#111"/>
<circle cx="92.9" cy="513.3" r="0.7" fill="#111"/>
<circle cx="99.6" cy="507" r="0.7" fill="#111"/>
<circle cx="106.5" cy="513.3" r="0.7" fill="#111"/>
<circle cx="112.7" cy="516" r="0.7" fill="#111"/>
<circle cx="119.4" cy="513.3" r="0.7" fill="#111"/>
<circle cx="125.2" cy="515.2" r="0.7" fill="#111"/>
<circle cx="132" cy="513.3" r="0.7" fill="#111"/>
<circle cx="138.7" cy="514.2" r="0.7" fill="#111"/>
<circle cx="145.2" cy="513.7" r="0.7" fill="#111"/>
<circle cx="186" cy="515.6" r="0.7" fill="#111"/>
<circle cx="189" cy="515.6" r="0.7" fill="#111"/>
<circle cx="196" cy="515.6" r="0.7" fill="#111"/>
<circle cx="202" cy="515.6" r="0.7" fill="#111"/>
<circle cx="209" cy="515.6" r="0.7" fill="#111"/>
<circle cx="215" cy="515.6" r="0.7" fill="#111"/>
<circle cx="222" cy="515.6" r="0.7" fill="#111"/>
<circle cx="228" cy="515.6" r="0.7" fill="#111"/>
<circle cx="234" cy="515.6" r="0.7" fill="#111"/>
<circle cx="241" cy="515.6" r="0.7" fill="#111"/>
<circle cx="247" cy="515.6" r="0.7" fill="#111"/>
<text x="86.7" y="439.2" font-size="3.7" text-anchor="start" font-weight="normal" fill="#777" class="t" textLength="29.5" lengthAdjust="spacingAndGlyphs">K<tspan font-size="2.4" dy="0.7">d</tspan><tspan dy="-0.7">= 16.3 ± 1.4 nM</tspan></text>
<text x="86.7" y="445" font-size="3.7" text-anchor="start" font-weight="normal" fill="#777" class="t" textLength="28.5" lengthAdjust="spacingAndGlyphs">B<tspan font-size="2.4" dy="0.7">max</tspan><tspan dy="-0.7">= 1.27 x 10</tspan><tspan font-size="2.4" dy="-1.3">4</tspan></text>
<text x="186" y="440.2" font-size="3.7" text-anchor="start" font-weight="normal" fill="#777" class="t" textLength="28.8" lengthAdjust="spacingAndGlyphs">K<tspan font-size="2.4" dy="0.7">d</tspan><tspan dy="-0.7">= 2.4 ± 0.2 nM</tspan></text>
<text x="186" y="445.5" font-size="3.7" text-anchor="start" font-weight="normal" fill="#777" class="t" textLength="31.5" lengthAdjust="spacingAndGlyphs">B<tspan font-size="2.4" dy="0.7">max</tspan><tspan dy="-0.7">= 1.21 x 10</tspan><tspan font-size="2.4" dy="-1.3">4</tspan></text>
<text x="290.8" y="391.7" font-size="12" text-anchor="start" font-weight="bold" fill="#111">G</text>
<line x1="335.5" y1="441.0" x2="335.5" y2="509.9" stroke="#444" stroke-width="0.8"/>
<line x1="335.1" y1="509.5" x2="475.3" y2="509.5" stroke="#444" stroke-width="0.8"/>
<line x1="333.5" y1="509.5" x2="335.5" y2="509.5" stroke="#444" stroke-width="0.7"/>
<text x="331.6" y="512.1" font-size="7.2" text-anchor="end" font-weight="normal" fill="#111" class="g">0</text>
<line x1="333.5" y1="500.975" x2="335.5" y2="500.975" stroke="#444" stroke-width="0.7"/>
<text x="331.6" y="503.57500000000005" font-size="7.2" text-anchor="end" font-weight="normal" fill="#111" class="g" textLength="20" lengthAdjust="spacingAndGlyphs">10000</text>
<line x1="333.5" y1="492.45" x2="335.5" y2="492.45" stroke="#444" stroke-width="0.7"/>
<text x="331.6" y="495.05" font-size="7.2" text-anchor="end" font-weight="normal" fill="#111" class="g" textLength="20" lengthAdjust="spacingAndGlyphs">20000</text>
<line x1="333.5" y1="483.925" x2="335.5" y2="483.925" stroke="#444" stroke-width="0.7"/>
<text x="331.6" y="486.52500000000003" font-size="7.2" text-anchor="end" font-weight="normal" fill="#111" class="g" textLength="20" lengthAdjust="spacingAndGlyphs">30000</text>
<line x1="333.5" y1="475.4" x2="335.5" y2="475.4" stroke="#444" stroke-width="0.7"/>
<text x="331.6" y="478.0" font-size="7.2" text-anchor="end" font-weight="normal" fill="#111" class="g" textLength="20" lengthAdjust="spacingAndGlyphs">40000</text>
<line x1="333.5" y1="466.875" x2="335.5" y2="466.875" stroke="#444" stroke-width="0.7"/>
<text x="331.6" y="469.475" font-size="7.2" text-anchor="end" font-weight="normal" fill="#111" class="g" textLength="20" lengthAdjust="spacingAndGlyphs">50000</text>
<line x1="333.5" y1="458.35" x2="335.5" y2="458.35" stroke="#444" stroke-width="0.7"/>
<text x="331.6" y="460.95000000000005" font-size="7.2" text-anchor="end" font-weight="normal" fill="#111" class="g" textLength="20" lengthAdjust="spacingAndGlyphs">60000</text>
<line x1="333.5" y1="449.825" x2="335.5" y2="449.825" stroke="#444" stroke-width="0.7"/>
<text x="331.6" y="452.425" font-size="7.2" text-anchor="end" font-weight="normal" fill="#111" class="g" textLength="20" lengthAdjust="spacingAndGlyphs">70000</text>
<line x1="333.5" y1="441.3" x2="335.5" y2="441.3" stroke="#444" stroke-width="0.7"/>
<text x="331.6" y="443.90000000000003" font-size="7.2" text-anchor="end" font-weight="normal" fill="#111" class="g" textLength="20" lengthAdjust="spacingAndGlyphs">80000</text>
<text x="338.4" y="518.5" font-size="7.4" text-anchor="middle" font-weight="normal" fill="#111" class="g">-10</text>
<text x="383.1" y="518.5" font-size="7.4" text-anchor="middle" font-weight="normal" fill="#111" class="g">-9.0</text>
<text x="427" y="518.5" font-size="7.4" text-anchor="middle" font-weight="normal" fill="#111" class="g">-8.0</text>
<text x="474.8" y="518.5" font-size="7.4" text-anchor="middle" font-weight="normal" fill="#111" class="g">-7.0</text>
<line x1="382" y1="509.5" x2="382" y2="511.7" stroke="#444" stroke-width="0.7"/>
<line x1="423.8" y1="509.5" x2="423.8" y2="511.7" stroke="#444" stroke-width="0.7"/>
<line x1="475" y1="509.5" x2="475" y2="511.7" stroke="#444" stroke-width="0.7"/>
<text x="411.5" y="528.3" font-size="7.8" text-anchor="middle" font-weight="normal" fill="#111" class="g" textLength="47" lengthAdjust="spacingAndGlyphs">Log Conc (M)</text>
<text x="303.6" y="473.5" font-size="7.8" text-anchor="middle" font-weight="normal" fill="#111" transform="rotate(-90 303.6 473.5)" class="g" textLength="47" lengthAdjust="spacingAndGlyphs">Counts (cpm)</text>
<path d="M335.5 449.5 C337.25 449.62 342.53 449.90 346 450.2 C349.47 450.50 353.30 450.78 356.3 451.3 C359.30 451.82 361.30 452.47 364 453.3 C366.70 454.13 369.67 455.10 372.5 456.3 C375.33 457.50 378.08 459.05 381 460.5 C383.92 461.95 387.17 463.42 390 465 C392.83 466.58 395.28 468.33 398 470 C400.72 471.67 403.47 473.53 406.3 475 C409.13 476.47 412.08 477.63 415 478.8 C417.92 479.97 421.08 481.17 423.8 482 C426.52 482.83 427.93 483.08 431.3 483.8 C434.67 484.52 439.63 485.55 444 486.3 C448.37 487.05 453.83 487.82 457.5 488.3 C461.17 488.78 463.08 488.92 466 489.2 C468.92 489.48 473.50 489.87 475 490" fill="none" stroke="#0a0a0a" stroke-width="1.2" stroke-linecap="round"/>
<circle cx="356.3" cy="451.3" r="0.9" fill="#111"/>
<circle cx="372.5" cy="456.3" r="0.9" fill="#111"/>
<circle cx="390" cy="465" r="0.9" fill="#111"/>
<circle cx="406.3" cy="475" r="0.9" fill="#111"/>
<circle cx="423.8" cy="482" r="0.9" fill="#111"/>
<circle cx="441.5" cy="485.9" r="0.9" fill="#111"/>
<circle cx="457.5" cy="488.3" r="0.9" fill="#111"/>
<circle cx="475" cy="490" r="0.9" fill="#111"/>
<text x="340" y="486.3" font-size="6.8" text-anchor="start" font-weight="normal" fill="#111" class="g" textLength="60" lengthAdjust="spacingAndGlyphs">K<tspan font-size="4.3" dy="1.2">D</tspan><tspan dy="-1.2"> = 3.00 +</tspan><tspan font-size="5" dy="1.6">-</tspan><tspan dy="-1.6">1.02 nM</tspan></text>
<text x="340" y="496.3" font-size="6.8" text-anchor="start" font-weight="normal" fill="#111" class="g" textLength="50" lengthAdjust="spacingAndGlyphs">B<tspan font-size="4.3" dy="1.2">Max</tspan><tspan dy="-1.2"> = 1.36 x 10</tspan><tspan font-size="4.3" dy="-2.6">4</tspan></text>
</svg>
</body></html>
